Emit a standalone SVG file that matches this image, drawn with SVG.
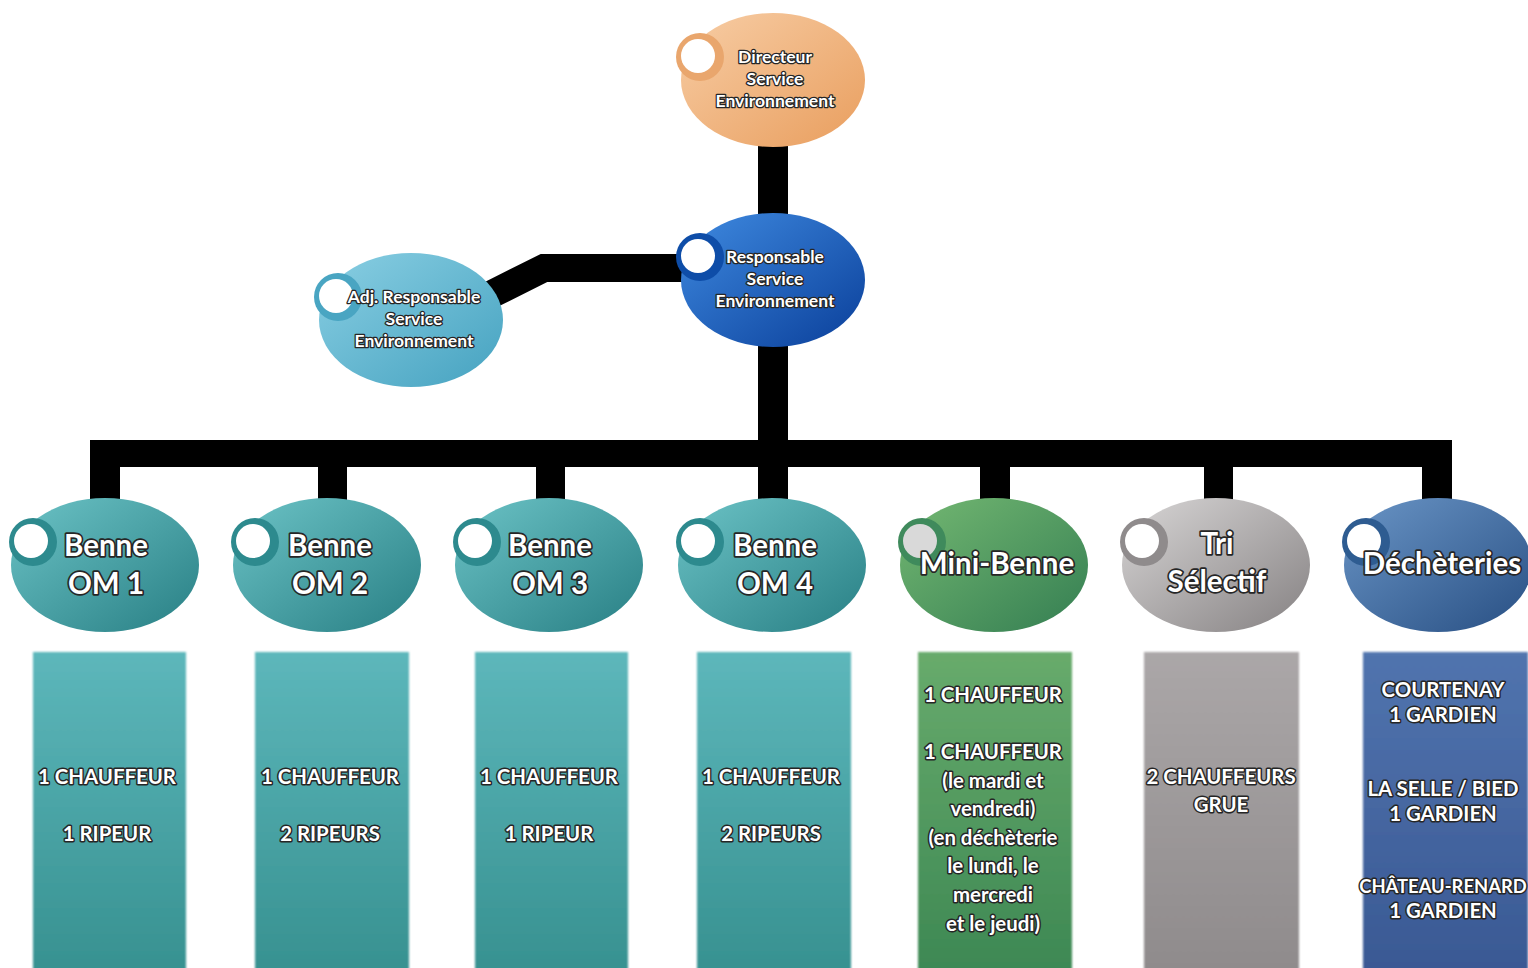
<svg xmlns="http://www.w3.org/2000/svg" width="1528" height="968" viewBox="0 0 1528 968">
<defs>
<linearGradient id="gOr" x1="0" y1="0" x2="1" y2="1"><stop offset="0" stop-color="#F7CDA5"/><stop offset="1" stop-color="#E99E5E"/></linearGradient>
<linearGradient id="gBl" x1="0" y1="0" x2="1" y2="1"><stop offset="0" stop-color="#3F8AE0"/><stop offset="1" stop-color="#0A3F9A"/></linearGradient>
<linearGradient id="gLb" x1="0" y1="0" x2="1" y2="1"><stop offset="0" stop-color="#8ACFE3"/><stop offset="1" stop-color="#45A2C0"/></linearGradient>
<linearGradient id="gTe" x1="0" y1="0" x2="1" y2="1"><stop offset="0" stop-color="#6CC3C6"/><stop offset="1" stop-color="#287F84"/></linearGradient>
<linearGradient id="gGr" x1="0" y1="0" x2="1" y2="1"><stop offset="0" stop-color="#74B872"/><stop offset="1" stop-color="#347E52"/></linearGradient>
<linearGradient id="gGy" x1="0" y1="0" x2="1" y2="1"><stop offset="0" stop-color="#D8D6D6"/><stop offset="1" stop-color="#858182"/></linearGradient>
<linearGradient id="gDb" x1="0" y1="0" x2="1" y2="1"><stop offset="0" stop-color="#6A95C6"/><stop offset="1" stop-color="#284F83"/></linearGradient>
<linearGradient id="bTe" x1="0" y1="0" x2="0" y2="1"><stop offset="0" stop-color="#5DB7BB"/><stop offset="1" stop-color="#36908F"/></linearGradient>
<linearGradient id="bGr" x1="0" y1="0" x2="0" y2="1"><stop offset="0" stop-color="#68AB6C"/><stop offset="1" stop-color="#3C8753"/></linearGradient>
<linearGradient id="bGy" x1="0" y1="0" x2="0" y2="1"><stop offset="0" stop-color="#ABA7A8"/><stop offset="1" stop-color="#8E8A8B"/></linearGradient>
<linearGradient id="bDb" x1="0" y1="0" x2="0" y2="1"><stop offset="0" stop-color="#5174AE"/><stop offset="1" stop-color="#395893"/></linearGradient>
<filter id="soft" x="-5%" y="-5%" width="110%" height="110%"><feGaussianBlur stdDeviation="1.3"/></filter>
</defs>
<style>
text{font-family:Lato,"Open Sans","Liberation Sans",sans-serif;font-weight:bold;fill:#fff;stroke:#262626;stroke-width:3;paint-order:stroke;stroke-linejoin:round;text-anchor:middle}
.s16{font-size:17.5px;stroke-width:2.6}
.s28{font-size:29.5px;stroke-width:3.4}
.s20{font-size:20.4px}
.s18{font-size:18.4px}
.hole{fill:#fff}
.bar{fill:none;stroke:#000}
</style>
<rect width="1528" height="968" fill="#fff"/>
<g id="connectors">
<rect x="758" y="140" width="30" height="80" fill="#000"/>
<rect x="758" y="340" width="30" height="110" fill="#000"/>
<polyline class="bar" points="492,294 544,268 690,268" stroke-width="28" stroke-linejoin="miter"/>
<rect x="90" y="440" width="1362" height="27" fill="#000"/>
<rect x="90" y="440" width="30" height="62" fill="#000"/>
<rect x="318" y="440" width="29" height="62" fill="#000"/>
<rect x="536" y="440" width="29" height="62" fill="#000"/>
<rect x="758" y="440" width="30" height="62" fill="#000"/>
<rect x="980" y="440" width="30" height="62" fill="#000"/>
<rect x="1204" y="440" width="29" height="62" fill="#000"/>
<rect x="1422" y="440" width="30" height="62" fill="#000"/>
</g>
<g id="n-directeur">
<ellipse cx="773" cy="80" rx="92" ry="67" fill="url(#gOr)"/>
<circle cx="700" cy="57" r="24" fill="#E9A66D"/><circle class="hole" cx="698" cy="56" r="17"/>
<text class="s16" x="775" y="63">Directeur</text>
<text class="s16" x="775" y="85">Service</text>
<text class="s16" x="775" y="107">Environnement</text>
</g>
<g id="n-responsable">
<ellipse cx="773" cy="280" rx="92" ry="67" fill="url(#gBl)"/>
<circle cx="700" cy="257" r="24" fill="#0E4DA8"/><circle class="hole" cx="698" cy="256" r="17"/>
<text class="s16" x="775" y="263">Responsable</text>
<text class="s16" x="775" y="285">Service</text>
<text class="s16" x="775" y="307">Environnement</text>
</g>
<g id="n-adj">
<ellipse cx="411" cy="320" rx="92" ry="67" fill="url(#gLb)"/>
<circle cx="338" cy="297" r="24" fill="#49A5C2"/><circle class="hole" cx="336" cy="296" r="17"/>
<text class="s16" x="414" y="303">Adj. Responsable</text>
<text class="s16" x="414" y="325">Service</text>
<text class="s16" x="414" y="347">Environnement</text>
</g>
<g id="n-om1">
<ellipse cx="105" cy="565" rx="94" ry="67" fill="url(#gTe)"/>
<circle cx="33" cy="542" r="24" fill="#2D8A8E"/><circle class="hole" cx="31" cy="541" r="17"/>
<text class="s28" x="106" y="556">Benne</text><text class="s28" x="106" y="594">OM 1</text>
</g>
<g id="n-om2">
<ellipse cx="327" cy="565" rx="94" ry="67" fill="url(#gTe)"/>
<circle cx="255" cy="542" r="24" fill="#2D8A8E"/><circle class="hole" cx="253" cy="541" r="17"/>
<text class="s28" x="330" y="556">Benne</text><text class="s28" x="330" y="594">OM 2</text>
</g>
<g id="n-om3">
<ellipse cx="549" cy="565" rx="94" ry="67" fill="url(#gTe)"/>
<circle cx="477" cy="542" r="24" fill="#2D8A8E"/><circle class="hole" cx="475" cy="541" r="17"/>
<text class="s28" x="550" y="556">Benne</text><text class="s28" x="550" y="594">OM 3</text>
</g>
<g id="n-om4">
<ellipse cx="772" cy="565" rx="94" ry="67" fill="url(#gTe)"/>
<circle cx="700" cy="542" r="24" fill="#2D8A8E"/><circle class="hole" cx="698" cy="541" r="17"/>
<text class="s28" x="775" y="556">Benne</text><text class="s28" x="775" y="594">OM 4</text>
</g>
<g id="n-minibenne">
<ellipse cx="994" cy="565" rx="94" ry="67" fill="url(#gGr)"/>
<circle cx="922" cy="542" r="24" fill="#3F8A5C"/><circle cx="920" cy="541" r="17" fill="#D9D9D9"/>
<text class="s28" x="997" y="574">Mini-Benne</text>
</g>
<g id="n-tri">
<ellipse cx="1216" cy="565" rx="94" ry="67" fill="url(#gGy)"/>
<circle cx="1144" cy="542" r="24" fill="#8F8B8C"/><circle class="hole" cx="1142" cy="541" r="17"/>
<text class="s28" x="1217" y="554">Tri</text><text class="s28" x="1217" y="592">Sélectif</text>
</g>
<g id="n-decheteries">
<ellipse cx="1438" cy="565" rx="94" ry="67" fill="url(#gDb)"/>
<circle cx="1366" cy="542" r="24" fill="#2E5C91"/><circle class="hole" cx="1364" cy="541" r="17"/>
<text class="s28" x="1442" y="574">Déchèteries</text>
</g>
<g id="b-om1">
<rect x="33" y="652" width="153" height="330" fill="url(#bTe)" filter="url(#soft)"/>
<text class="s20" x="107" y="784">1 CHAUFFEUR</text><text class="s20" x="107" y="841">1 RIPEUR</text>
</g>
<g id="b-om2">
<rect x="255" y="652" width="154" height="330" fill="url(#bTe)" filter="url(#soft)"/>
<text class="s20" x="330" y="784">1 CHAUFFEUR</text><text class="s20" x="330" y="841">2 RIPEURS</text>
</g>
<g id="b-om3">
<rect x="475" y="652" width="153" height="330" fill="url(#bTe)" filter="url(#soft)"/>
<text class="s20" x="549" y="784">1 CHAUFFEUR</text><text class="s20" x="549" y="841">1 RIPEUR</text>
</g>
<g id="b-om4">
<rect x="697" y="652" width="154" height="330" fill="url(#bTe)" filter="url(#soft)"/>
<text class="s20" x="771" y="784">1 CHAUFFEUR</text><text class="s20" x="771" y="841">2 RIPEURS</text>
</g>
<g id="b-minibenne">
<rect x="918" y="652" width="154" height="330" fill="url(#bGr)" filter="url(#soft)"/>
<text class="s20" x="993" y="702">1 CHAUFFEUR</text>
<text class="s20" x="993" y="759">1 CHAUFFEUR</text>
<text class="s20" x="993" y="788">(le mardi et</text>
<text class="s20" x="993" y="816">vendredi)</text>
<text class="s20" x="993" y="845">(en déchèterie</text>
<text class="s20" x="993" y="873">le lundi, le</text>
<text class="s20" x="993" y="902">mercredi</text>
<text class="s20" x="993" y="931">et le jeudi)</text>
</g>
<g id="b-tri">
<rect x="1144" y="652" width="155" height="330" fill="url(#bGy)" filter="url(#soft)"/>
<text class="s20" x="1221" y="784">2 CHAUFFEURS</text><text class="s20" x="1221" y="812">GRUE</text>
</g>
<g id="b-decheteries">
<rect x="1363" y="652" width="165" height="330" fill="url(#bDb)" filter="url(#soft)"/>
<text class="s20" x="1443" y="697">COURTENAY</text><text class="s20" x="1443" y="722">1 GARDIEN</text>
<text class="s20" x="1443" y="796">LA SELLE / BIED</text><text class="s20" x="1443" y="821">1 GARDIEN</text>
<text class="s18" x="1443" y="893">CHÂTEAU-RENARD</text><text class="s20" x="1443" y="918">1 GARDIEN</text>
</g>
</svg>
